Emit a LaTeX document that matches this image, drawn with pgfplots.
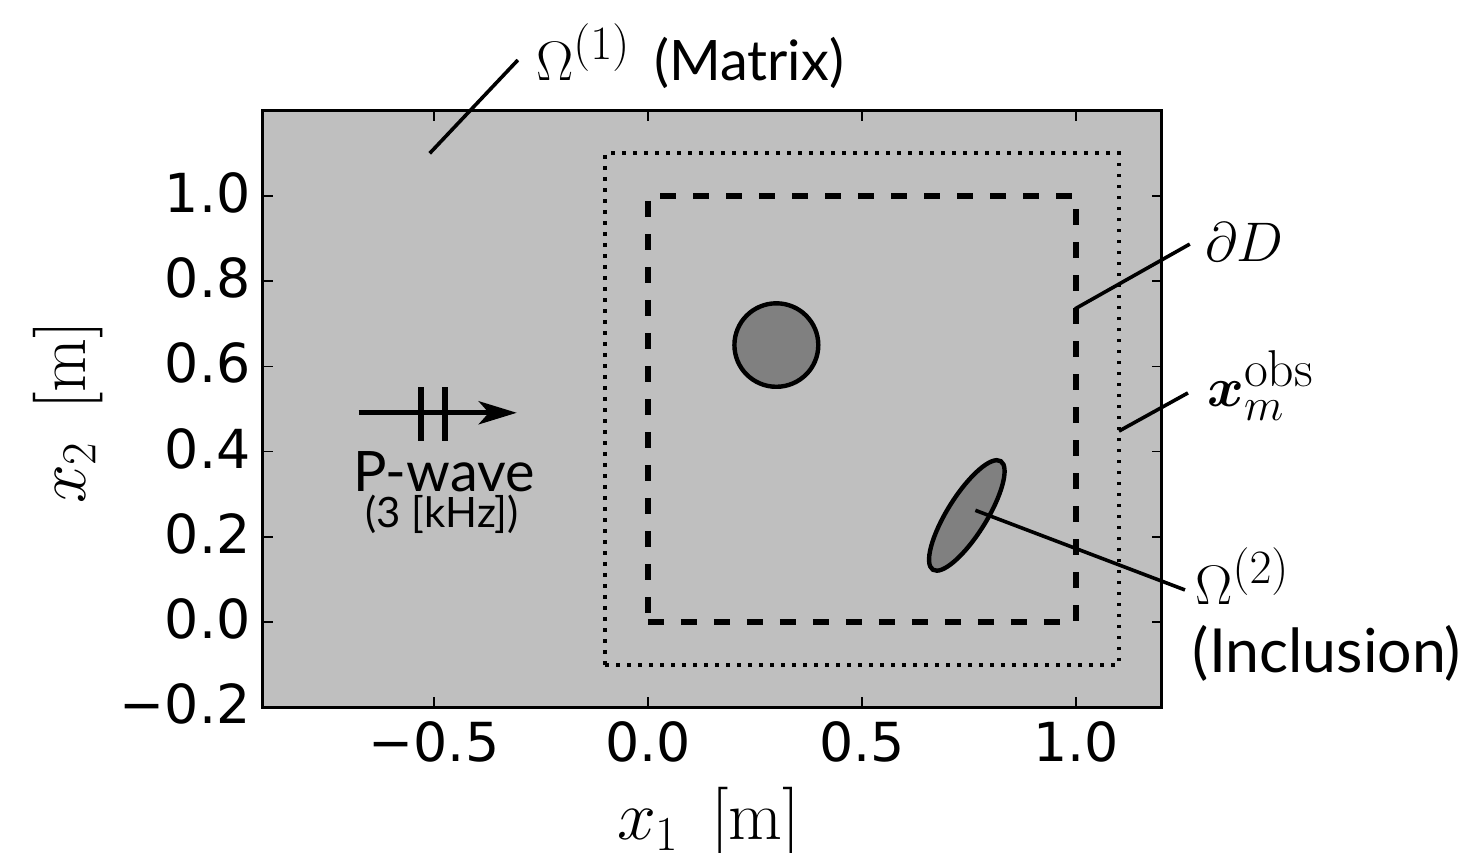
\RequirePackage{fix-cm}
\documentclass[border=0pt]{standalone}
\usepackage[no-math]{fontspec}
\setmainfont{Lato}
\newfontfamily\dejavu{DejaVu Sans}
\usepackage{bm}
\usepackage{pgfplots}
\pgfplotsset{compat=1.18}
\usetikzlibrary{arrows.meta}
\definecolor{bg}{RGB}{191,191,191}
\definecolor{incl}{RGB}{128,128,128}
\newcommand{\ssz}[2]{\mbox{\fontsize{#1}{#1}\selectfont$#2$}}
\begin{document}
\begin{tikzpicture}
\begin{axis}[
  scale only axis, width=449.4bp, height=298.2bp,
  xmin=-0.9, xmax=1.2, ymin=-0.2, ymax=1.2,
  axis background/.style={fill=bg},
  axis line style={line width=1.4bp, black},
  clip=false, no markers,
  xtick={-0.5,0,0.5,1}, xticklabels={−0.5,0.0,0.5,1.0},
  ytick={-0.2,0,0.2,0.4,0.6,0.8,1.0},
  yticklabels={−0.2,0.0,0.2,0.4,0.6,0.8,1.0},
  tick align=inside, major tick length=5bp,
  tick style={line width=0.8bp, black},
  ticklabel style={font=\dejavu\fontsize{27}{32}\selectfont},
  xticklabel style={inner sep=0pt, yshift=-7bp},
  yticklabel style={inner sep=0pt, xshift=-6bp, yshift=1.5bp},
  xlabel={$x_1\hspace{0.46em}[\mathrm{m}]$}, ylabel={$x_2\hspace{0.46em}[\mathrm{m}]$},
  label style={font=\fontsize{35}{42}\selectfont},
  xlabel style={at={(axis description cs:0.496,-0.2227)}, anchor=base},
  ylabel style={at={(axis description cs:-0.1978,0.494)}, anchor=base},
]
% observation points (dotted) and domain boundary (dashed)
\addplot[black, line width=2bp, dash pattern=on 1.8bp off 3.7bp] coordinates {(-0.1,-0.1) (1.1,-0.1) (1.1,1.1) (-0.1,1.1) (-0.1,-0.1)};
\addplot[black, line width=2.8bp, dash pattern=on 8bp off 8.5bp] coordinates {(0,0) (1,0) (1,1) (0,1) (0,0)};
% inclusions
\draw[line width=2.2bp, fill=incl] (axis cs:0.3,0.65) circle [radius=0.098];
\draw[line width=2.2bp, fill=incl, rotate around={58:(axis cs:0.745,0.25)}] (axis cs:0.745,0.25) ellipse [x radius=32bp, y radius=9.8bp];
% incident wave arrow
\addplot[black, line width=2.6bp, -{Stealth[length=19bp, width=11.5bp, inset=5bp]}] coordinates {(-0.676,0.491) (-0.3065,0.491)};
\addplot[black, line width=3bp] coordinates {(-0.530,0.425) (-0.530,0.552)};
\addplot[black, line width=3bp] coordinates {(-0.4737,0.425) (-0.4737,0.552)};
\node[anchor=base, font=\fontsize{28}{34}\selectfont, inner sep=0pt] at (axis cs:-0.476,0.306) {P-wave};
\node[anchor=base, font=\fontsize{21}{25}\selectfont, inner sep=0pt] at (axis cs:-0.481,0.2207) {(3 [kHz])};
% annotation lines
\addplot[black, line width=1.8bp] coordinates {(-0.51,1.1) (-0.304,1.319)};
\addplot[black, line width=1.8bp] coordinates {(0.998,0.735) (1.266,0.887)};
\addplot[black, line width=1.8bp] coordinates {(1.1005,0.448) (1.2617,0.5376)};
\addplot[black, line width=1.8bp] coordinates {(0.765,0.262) (1.2547,0.0751)};
% annotation texts
\node[anchor=base west, font=\fontsize{28}{34}\selectfont, inner sep=0pt] at (axis cs:-0.262,1.272) {$\Omega^{\ssz{24}{(1)}}$\hspace{12bp}(Matrix)};
\node[anchor=base west, font=\fontsize{28}{34}\selectfont, inner sep=0pt] at (axis cs:1.301,0.845) {$\partial D$};
\node[anchor=base west, font=\fontsize{28}{34}\selectfont, inner sep=0pt] at (axis cs:1.306,0.5047) {$\bm{x}_{\ssz{23}{m}}^{\ssz{26}{\mathrm{obs}}}$};
\node[anchor=base west, font=\fontsize{28}{34}\selectfont, inner sep=0pt] at (axis cs:1.278,0.042) {$\Omega^{\ssz{24}{(2)}}$};
\node[anchor=base west, font=\fontsize{30.5}{34}\selectfont, inner sep=0pt] at (axis cs:1.272,-0.1197) {(Inclusion)};
\coordinate (BL) at (axis cs:-1.514,-0.5423);
\coordinate (TR) at (axis cs:1.902,1.460);
\end{axis}
\pgfresetboundingbox
\useasboundingbox (BL) rectangle (TR);
\end{tikzpicture}
\end{document}
